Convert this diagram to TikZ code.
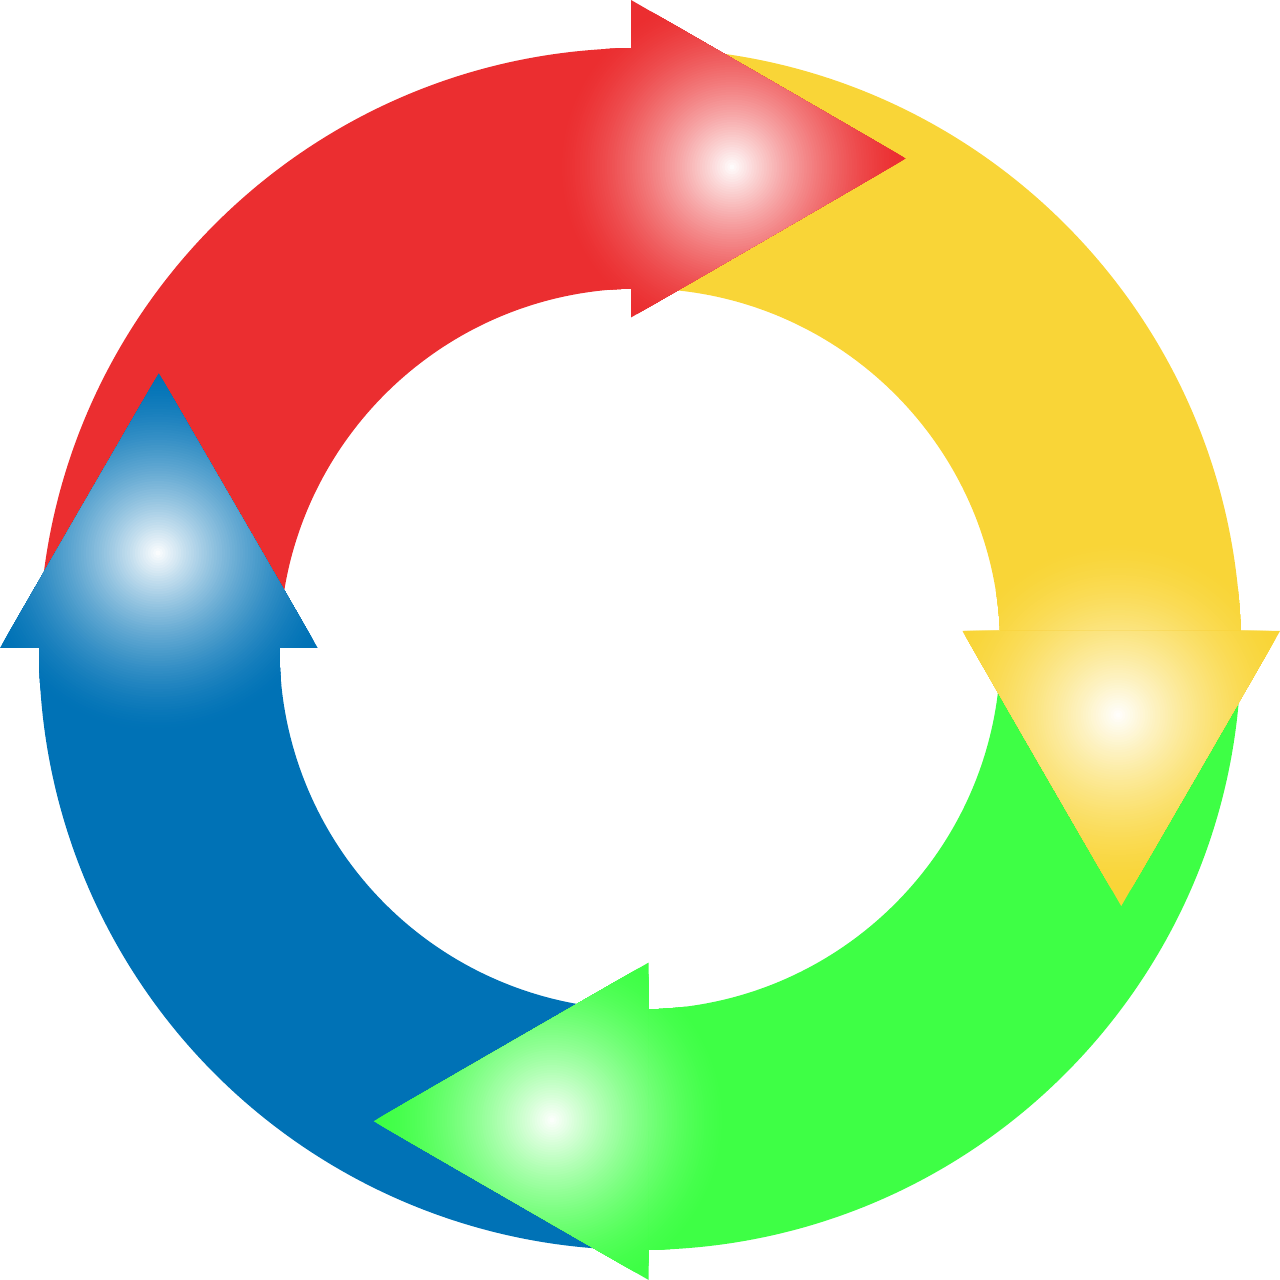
\documentclass[tikz,border=0pt]{standalone}
\definecolor{cR}{RGB}{235,46,48}
\definecolor{cY}{RGB}{249,213,55}
\definecolor{cG}{RGB}{62,255,69}
\definecolor{cB}{RGB}{0,114,182}
\newcommand\myglow[4]{%
  \foreach \i in {0,...,69}{%
    \pgfmathsetmacro\rr{#4*(1-\i/70)}%
    \pgfmathsetmacro\ww{100*(\i/70)^1.5}%
    \fill[white!\ww!#1] (#2,#3) circle[radius=\rr];
  }%
}
\begin{document}
\begin{tikzpicture}[x=0.01cm,y=-0.01cm]
\useasboundingbox (0,0) rectangle (1280,1280);
% ---------- shafts ----------
% red shaft
\begin{scope}
\clip ([shift={(640,649)}]181:601) arc[start angle=181,end angle=269.33,radius=601]
  -- ([shift={(640,649)}]268.89:360.5) arc[start angle=268.89,end angle=181,radius=360.5] -- cycle;
\fill[cR] (0,0) rectangle (1280,1280);
\myglow{cR}{732}{167}{175}
\end{scope}
% yellow shaft
\begin{scope}
\clip ([shift={(640,649)}]270:601) arc[start angle=270,end angle=358.47,radius=601]
  -- ([shift={(640,649)}]357.46:360.5) arc[start angle=357.46,end angle=270,radius=360.5] -- cycle;
\fill[cY] (0,0) rectangle (1280,1280);
\myglow{cY}{1118}{715}{175}
\end{scope}
% green shaft
\begin{scope}
\clip ([shift={(640,649)}]0:601) arc[start angle=0,end angle=89.33,radius=601]
  -- ([shift={(640,649)}]88.89:360.5) arc[start angle=88.89,end angle=0,radius=360.5] -- cycle;
\fill[cG] (0,0) rectangle (1280,1280);
\myglow{cG}{552}{1120}{175}
\end{scope}
% blue shaft
\begin{scope}
\clip ([shift={(640,649)}]90:601) arc[start angle=90,end angle=180.29,radius=601]
  -- ([shift={(640,649)}]180.48:360.5) arc[start angle=180.48,end angle=90,radius=360.5] -- cycle;
\fill[cB] (0,0) rectangle (1280,1280);
\myglow{cB}{158}{553}{180}
\end{scope}
% ---------- heads ----------
\begin{scope}
\clip (631,0) -- (905.5,158.5) -- (631,317.5) -- cycle;
\fill[cR] (0,0) rectangle (1280,1280);
\myglow{cR}{732}{167}{175}
\end{scope}
\begin{scope}
\clip (962.5,631) -- (1280,631) -- (1121.2,906) -- cycle;
\fill[cY] (0,0) rectangle (1280,1280);
\myglow{cY}{1118}{715}{175}
\end{scope}
\begin{scope}
\clip (648.7,962.5) -- (648.7,1280) -- (373.7,1121.2) -- cycle;
\fill[cG] (0,0) rectangle (1280,1280);
\myglow{cG}{552}{1120}{175}
\end{scope}
\begin{scope}
\clip (0,648) -- (317.7,648) -- (158.8,373.5) -- cycle;
\fill[cB] (0,0) rectangle (1280,1280);
\myglow{cB}{158}{553}{180}
\end{scope}
\end{tikzpicture}
\end{document}
